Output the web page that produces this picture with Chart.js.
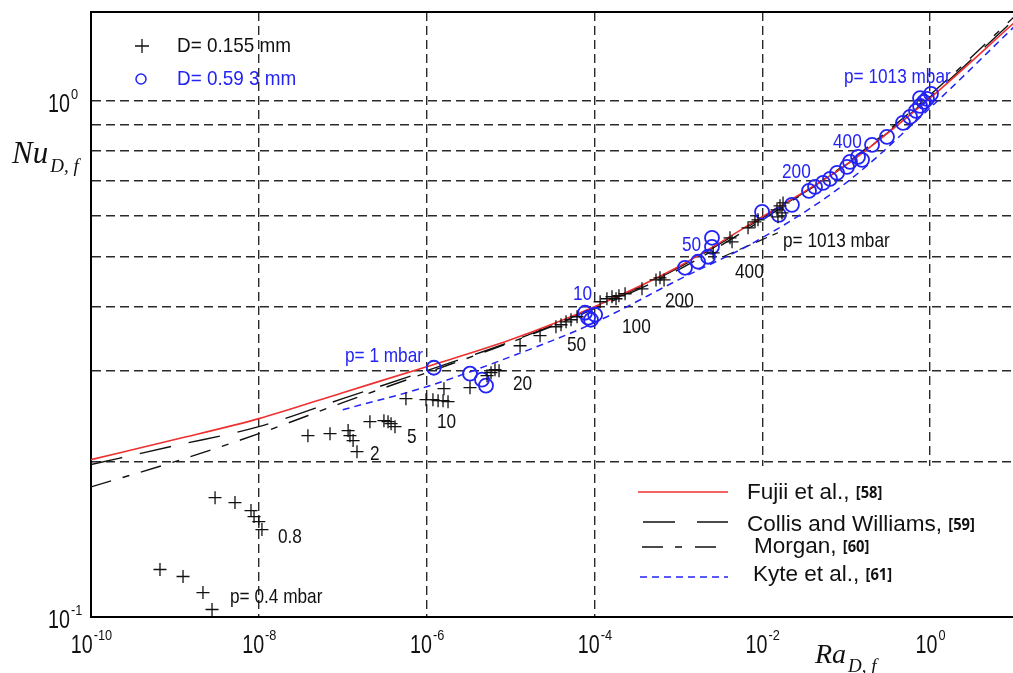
<!DOCTYPE html>
<html>
<head>
<meta charset="utf-8">
<script src="https://cdn.jsdelivr.net/npm/chart.js@4.4.1/dist/chart.umd.min.js"></script>
<style>
  html, body { margin: 0; padding: 0; background: #fff; }
  #wrap { width: 1013px; height: 673px; }
</style>
</head>
<body>
<div id="wrap"><canvas id="nuChart" width="1013" height="673"></canvas></div>
<script>
// axis ticks
const xTicks = [1e-10, 1e-8, 1e-6, 1e-4, 1e-2, 1];
const xTickExp = ['-10', '-8', '-6', '-4', '-2', '0'];
const yGrid = [0.1, 0.2, 0.3, 0.4, 0.5, 0.6, 0.7, 0.8, 0.9, 1.0];
const yLabelVals = [0.1, 1];
const yLabelExp = ['-1', '0'];

// D = 0.155 mm wire (crosses), p = 0.4 ... 1013 mbar
const smallRa = [
  6.64e-10, 1.25e-9, 2.16e-9, 2.77e-9,
  3.01e-9, 5.2e-9, 8.07e-9, 8.77e-9, 1.0e-8, 1.09e-8,
  3.85e-8, 7.06e-8, 1.16e-7, 1.22e-7, 1.33e-7, 1.48e-7,
  2.11e-7, 3.10e-7, 3.47e-7, 3.77e-7, 4.2e-7,
  5.67e-7, 9.84e-7, 1.19e-6, 1.37e-6, 1.57e-6, 1.80e-6, 1.61e-6,
  3.29e-6, 5.25e-6, 5.86e-6, 6.53e-6, 7.30e-6,
  1.30e-5, 2.25e-5, 3.48e-5, 4.0e-5, 4.59e-5, 5.26e-5, 6.21e-5,
  1.17e-4, 1.41e-4, 1.62e-4, 1.81e-4, 1.96e-4, 2.32e-4, 3.69e-4,
  5.42e-4, 6.05e-4, 6.76e-4,
  2.60e-3, 4.13e-3, 4.37e-3, 6.78e-3, 8.2e-3, 8.91e-3,
  1.50e-2, 1.63e-2, 1.72e-2, 1.77e-2, 1.54e-2
];
const smallNu = [
  0.1236, 0.1198, 0.1115, 0.1034,
  0.1703, 0.1666, 0.1608, 0.1565, 0.1531, 0.1477,
  0.2246, 0.2266, 0.2297, 0.2246, 0.2197, 0.2091,
  0.2390, 0.2401, 0.2390, 0.2369, 0.2338,
  0.2649, 0.2637, 0.2637, 0.2625, 0.2625, 0.2614, 0.2770,
  0.2782, 0.2935, 0.2974, 0.3014, 0.3001,
  0.3354, 0.3508, 0.3651, 0.3684, 0.3733, 0.3767, 0.3818,
  0.4082, 0.4137, 0.4174, 0.4137, 0.4193, 0.4230, 0.4325,
  0.4500, 0.4542, 0.4500,
  0.5078, 0.5430, 0.5333, 0.5676, 0.5830, 0.5883,
  0.6151, 0.6261, 0.6068, 0.6345, 0.5963
];

// D = 0.593 mm wire (circles), p = 1 ... 1013 mbar
const largeRa = [
  1.22e-6, 3.29e-6, 4.57e-6, 5.10e-6,
  7.73e-5, 8.40e-5, 9.10e-5, 1.02e-4,
  1.20e-3, 1.72e-3, 2.26e-3, 2.52e-3, 2.52e-3,
  9.96e-3, 1.58e-2, 2.26e-2, 3.61e-2, 4.26e-2, 5.31e-2, 6.43e-2, 7.80e-2,
  0.1026, 0.1112, 0.1387, 0.1549, 0.2037, 0.3069, 0.4764, 0.5781,
  0.6808, 0.7603, 0.8472, 0.9204, 1.028, 0.7603
];
const largeNu = [
  0.3041, 0.2961, 0.2883, 0.2807,
  0.3886, 0.3801, 0.3767, 0.3852,
  0.4750, 0.4879, 0.4989, 0.5216, 0.5430,
  0.6095, 0.6015, 0.6289, 0.6694, 0.6814, 0.6937, 0.7063, 0.7253,
  0.7452, 0.7619, 0.7791, 0.7688, 0.8218, 0.8518, 0.9066, 0.9312,
  0.9564, 0.9779, 0.9956, 1.009, 1.032, 1.013
];

// correlations
const corrRa = [1e-10, 1e-9, 1e-8, 1e-7, 1e-6, 1e-5, 1e-4, 1e-3, 1e-2, 1e-1, 1, 10];
const fujiiNu = [0.2018, 0.2207, 0.2423, 0.2721, 0.3055, 0.3445, 0.3993, 0.4771, 0.5963, 0.7517, 1.013, 1.416];
const collisNu = [0.1974, 0.2148, 0.2338, 0.2649, 0.3001, 0.3415, 0.3975, 0.4750, 0.5937, 0.7517, 1.018, 1.435];
const morganNu = [0.1787, 0.2000, 0.2266, 0.2602, 0.2974, 0.3404, 0.3957, 0.4708, 0.5883, 0.7560, 1.027, 1.454];
const kyteRa = [1e-7, 1e-6, 1e-5, 1e-4, 1e-3, 1e-2, 1e-1, 1, 10];
const kyteNu = [0.2521, 0.2794, 0.3194, 0.3717, 0.4501, 0.5429, 0.6940, 0.9690, 1.391];

// pointer line to the 1013 mbar label
const leaderRa = [3.41e-3, 1.54e-2];
const leaderNu = [0.4989, 0.5553];

const BLUE = '#2323f5';
const INK = '#111';
const SANS = '"Liberation Sans", Arial, sans-serif';
const SERIF = '"Liberation Serif", "Times New Roman", serif';

// pressure labels [text, x, y, colour]
const notes = [
  ['p= 0.4 mbar', 230, 603, INK], ['0.8', 278, 543, INK], ['2', 370, 460, INK],
  ['5', 407, 443, INK], ['10', 437, 428, INK], ['20', 513, 390, INK],
  ['50', 567, 351, INK], ['100', 622, 333, INK], ['200', 665, 307, INK],
  ['400', 735, 278, INK], ['p= 1013 mbar', 783, 247, INK],
  ['p= 1 mbar', 345, 362, BLUE], ['10', 573, 300, BLUE], ['50', 682, 251, BLUE],
  ['200', 782, 178, BLUE], ['400', 833, 148, BLUE], ['p= 1013 mbar', 844, 83, BLUE]
];

const pts = (xs, ys) => xs.map((v, i) => ({ x: v, y: ys[i] }));

function text(ctx, s, x, y, o) {
  ctx.save();
  ctx.font = (o.style || '') + ' ' + (o.weight || '') + ' ' + o.size + 'px ' + (o.family || SANS);
  ctx.fillStyle = o.color || INK;
  ctx.textBaseline = 'alphabetic';
  ctx.textAlign = 'left';
  const sx = o.sx || 1;
  ctx.translate(x, y);
  ctx.scale(sx, o.sy || 1);
  ctx.fillText(s, 0, 0);
  const w = ctx.measureText(s).width * sx;
  ctx.restore();
  return w;
}

function measure(ctx, s, o) {
  ctx.save();
  ctx.font = (o.style || '') + ' ' + (o.weight || '') + ' ' + o.size + 'px ' + (o.family || SANS);
  const w = ctx.measureText(s).width * (o.sx || 1);
  ctx.restore();
  return w;
}

const BASE = { size: 24, sx: 0.82, sy: 1.05 };
const EXPO = { size: 15, sx: 0.85 };

function power(ctx, exp, x, y, align) {
  const w1 = measure(ctx, '10', BASE);
  const w2 = measure(ctx, exp, EXPO);
  const left = align === 'center' ? x - (w1 + w2) / 2 : x;
  text(ctx, '10', left, y, BASE);
  text(ctx, exp, left + w1 + 1, y - 13, EXPO);
}

const decor = {
  id: 'decor',
  afterDraw(chart) {
    const { ctx, chartArea: a, scales: { x, y } } = chart;

    // top frame
    ctx.save();
    ctx.strokeStyle = '#000';
    ctx.lineWidth = 2;
    ctx.beginPath();
    ctx.moveTo(a.left - 1, a.top);
    ctx.lineTo(a.right, a.top);
    ctx.stroke();
    ctx.restore();

    // tick labels
    xTicks.forEach((v, i) => power(ctx, xTickExp[i], x.getPixelForValue(v), 653, 'center'));
    yLabelVals.forEach((v, i) => {
      const py = y.getPixelForValue(v);
      power(ctx, yLabelExp[i], 48, py + 11, 'left');
    });

    // axis titles
    let w = text(ctx, 'Nu', 12, 163, { size: 31, style: 'italic', family: SERIF });
    text(ctx, 'D, f', 12 + w + 2, 172, { size: 19, style: 'italic', family: SERIF });
    w = text(ctx, 'Ra', 815, 663, { size: 28, style: 'italic', family: SERIF });
    text(ctx, 'D, f', 815 + w + 2, 672, { size: 19, style: 'italic', family: SERIF });

    // symbol key, top left
    ctx.save();
    ctx.strokeStyle = INK;
    ctx.lineWidth = 1.3;
    ctx.beginPath();
    ctx.moveTo(135, 46); ctx.lineTo(149, 46);
    ctx.moveTo(142, 39); ctx.lineTo(142, 53);
    ctx.stroke();
    ctx.strokeStyle = BLUE;
    ctx.lineWidth = 1.5;
    ctx.beginPath();
    ctx.arc(141, 79, 5, 0, Math.PI * 2);
    ctx.stroke();
    ctx.restore();
    text(ctx, 'D= 0.155 mm', 177, 52, { size: 21, sx: 0.9 });
    text(ctx, 'D= 0.59 3 mm', 177, 85, { size: 21, sx: 0.9, color: BLUE });

    // line key, bottom right
    ctx.save();
    ctx.fillStyle = '#fff';
    ctx.fillRect(615, 466, a.right - 615, a.bottom - 467);
    const rows = [
      { y: 492, color: '#ee3030', dash: [], x0: 638, label: 'Fujii et al., ', ref: '[58]', tx: 747, ty: 499 },
      { y: 522, color: INK, dash: [32, 22], x0: 643, label: 'Collis and Williams, ', ref: '[59]', tx: 747, ty: 531 },
      { y: 547, color: INK, dash: [21, 12, 7, 13], x0: 642, label: 'Morgan, ', ref: '[60]', tx: 754, ty: 553 },
      { y: 577, color: BLUE, dash: [7, 5], x0: 640, label: 'Kyte et al., ', ref: '[61]', tx: 753, ty: 581 }
    ];
    rows.forEach(r => {
      ctx.strokeStyle = r.color;
      ctx.lineWidth = 1.5;
      ctx.setLineDash(r.dash);
      ctx.beginPath();
      ctx.moveTo(r.x0, r.y);
      ctx.lineTo(728, r.y);
      ctx.stroke();
    });
    ctx.setLineDash([]);
    ctx.restore();
    rows.forEach(r => {
      const lw = text(ctx, r.label, r.tx, r.ty, { size: 22.5 });
      text(ctx, r.ref, r.tx + lw, r.ty - 1, { size: 16, weight: 'bold', family: '"Open Sans", "Noto Sans", sans-serif', sx: 0.92 });
    });

    // pressure labels
    notes.forEach(n => text(ctx, n[0], n[1], n[2], { size: 21, sx: 0.82, color: n[3] }));
  }
};

new Chart(document.getElementById('nuChart'), {
  type: 'scatter',
  data: {
    datasets: [
      {
        label: 'D= 0.155 mm',
        data: pts(smallRa, smallNu),
        pointStyle: 'cross',
        pointRadius: 6.5,
        borderColor: INK,
        borderWidth: 1.3,
        backgroundColor: 'transparent'
      },
      {
        label: 'D= 0.593 mm',
        data: pts(largeRa, largeNu),
        pointStyle: 'circle',
        pointRadius: 7,
        borderColor: BLUE,
        borderWidth: 1.8,
        backgroundColor: 'transparent'
      },
      {
        label: 'Fujii et al.',
        data: pts(corrRa, fujiiNu),
        showLine: true,
        pointRadius: 0,
        borderColor: '#ee3030',
        borderWidth: 1.6,
        cubicInterpolationMode: 'monotone'
      },
      {
        label: 'Collis and Williams',
        data: pts(corrRa, collisNu),
        showLine: true,
        pointRadius: 0,
        borderColor: INK,
        borderWidth: 1.4,
        borderDash: [32, 18],
        cubicInterpolationMode: 'monotone'
      },
      {
        label: 'Morgan',
        data: pts(corrRa, morganNu),
        showLine: true,
        pointRadius: 0,
        borderColor: INK,
        borderWidth: 1.4,
        borderDash: [21, 12, 7, 12],
        cubicInterpolationMode: 'monotone'
      },
      {
        label: 'Kyte et al.',
        data: pts(kyteRa, kyteNu),
        showLine: true,
        pointRadius: 0,
        borderColor: BLUE,
        borderWidth: 1.5,
        borderDash: [7, 5],
        cubicInterpolationMode: 'monotone'
      },
      {
        label: 'leader',
        data: pts(leaderRa, leaderNu),
        showLine: true,
        pointRadius: 0,
        borderColor: INK,
        borderWidth: 1.2,
        borderDash: [12, 6]
      }
    ]
  },
  options: {
    responsive: false,
    animation: false,
    devicePixelRatio: 1,
    layout: { autoPadding: false, padding: { top: 12, right: 0, left: 0, bottom: 0 } },
    plugins: {
      legend: { display: false },
      tooltip: { enabled: false }
    },
    scales: {
      x: {
        type: 'logarithmic',
        min: 1e-10,
        max: 9.75,
        afterBuildTicks: s => { s.ticks = xTicks.map(v => ({ value: v })); },
        afterFit: s => { s.height = 56; },
        ticks: { display: false },
        grid: { color: '#2a2a2a', lineWidth: 1.4, drawTicks: false },
        border: { display: true, color: '#000', width: 2, dash: [9, 5] }
      },
      y: {
        type: 'logarithmic',
        min: 0.1,
        max: 1.487,
        afterBuildTicks: s => { s.ticks = yGrid.map(v => ({ value: v })); },
        afterFit: s => { s.width = 91; },
        ticks: { display: false },
        grid: { color: '#2a2a2a', lineWidth: 1.4, drawTicks: false },
        border: { display: true, color: '#000', width: 2, dash: [9, 5] }
      }
    }
  },
  plugins: [decor]
});
</script>
</body>
</html>
